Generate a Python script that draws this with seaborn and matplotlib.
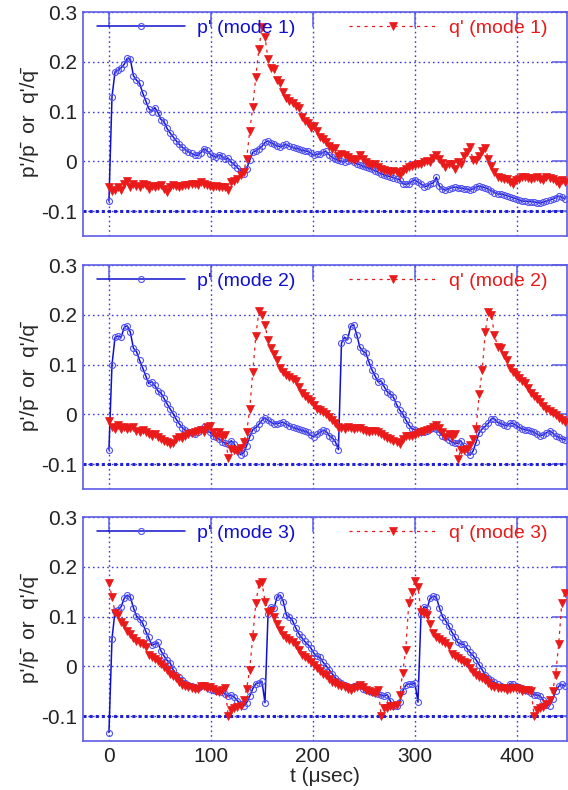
import matplotlib
matplotlib.use("Agg")
import matplotlib.pyplot as plt
import pandas as pd
import seaborn as sns

# sampling instants (microseconds)
t_us = list(range(0, 448, 3))

# normalised pressure / heat-release fluctuations for each acoustic mode
p_mode1 = [
    -0.080, 0.130, 0.180, 0.183, 0.188, 0.195, 0.207, 0.205, 0.172, 0.163,
    0.157, 0.138, 0.122, 0.106, 0.100, 0.108, 0.098, 0.084, 0.080, 0.066,
    0.057, 0.049, 0.041, 0.034, 0.028, 0.023, 0.019, 0.016, 0.013, 0.012,
    0.017, 0.025, 0.022, 0.015, 0.011, 0.008, 0.013, 0.010, 0.004, 0.006,
    -0.002, -0.007, -0.013, -0.019, -0.025, -0.015, 0.002, 0.018, 0.021, 0.025,
    0.030, 0.038, 0.041, 0.037, 0.034, 0.031, 0.029, 0.032, 0.034, 0.030,
    0.028, 0.026, 0.025, 0.022, 0.021, 0.020, 0.016, 0.012, 0.014, 0.015,
    0.018, 0.020, 0.013, 0.008, 0.004, 0.002, 0.000, -0.001, 0.001, 0.002,
    -0.002, -0.005, -0.007, -0.010, -0.012, -0.014, -0.016, -0.019, -0.022, -0.025,
    -0.028, -0.030, -0.031, -0.033, -0.035, -0.037, -0.045, -0.046, -0.045, -0.040,
    -0.038, -0.042, -0.045, -0.051, -0.050, -0.045, -0.044, -0.032, -0.050, -0.056,
    -0.058, -0.055, -0.053, -0.052, -0.053, -0.054, -0.055, -0.056, -0.058, -0.055,
    -0.052, -0.050, -0.052, -0.053, -0.056, -0.059, -0.063, -0.065, -0.066, -0.067,
    -0.069, -0.071, -0.073, -0.075, -0.078, -0.080, -0.080, -0.081, -0.081, -0.082,
    -0.083, -0.084, -0.082, -0.080, -0.078, -0.076, -0.073, -0.070, -0.072, -0.075,
]
q_mode1 = [
    -0.052, -0.060, -0.058, -0.052, -0.058, -0.045, -0.040, -0.052, -0.046, -0.050,
    -0.052, -0.046, -0.048, -0.055, -0.050, -0.052, -0.049, -0.048, -0.055, -0.062,
    -0.052, -0.048, -0.050, -0.052, -0.050, -0.048, -0.048, -0.046, -0.045, -0.048,
    -0.042, -0.046, -0.048, -0.050, -0.052, -0.050, -0.052, -0.051, -0.052, -0.058,
    -0.042, -0.040, -0.036, -0.028, -0.022, 0.005, 0.060, 0.110, 0.170, 0.225,
    0.270, 0.250, 0.205, 0.188, 0.185, 0.163, 0.158, 0.140, 0.128, 0.122,
    0.118, 0.112, 0.108, 0.090, 0.082, 0.076, 0.066, 0.070, 0.060, 0.049,
    0.044, 0.038, 0.030, 0.024, 0.026, 0.010, 0.015, 0.012, 0.009, 0.004,
    0.002, 0.005, 0.012, 0.004, -0.001, -0.006, -0.008, -0.005, -0.012, -0.015,
    -0.018, -0.019, -0.021, -0.020, -0.022, -0.028, -0.020, -0.015, -0.012, -0.010,
    -0.008, -0.006, -0.005, -0.002, 0.001, -0.001, 0.006, 0.012, 0.005, -0.004,
    -0.011, -0.006, -0.005, -0.015, -0.001, -0.005, 0.010, 0.019, 0.029, 0.002,
    0.002, 0.010, 0.020, 0.026, 0.005, -0.010, -0.022, -0.032, -0.034, -0.035,
    -0.035, -0.042, -0.045, -0.038, -0.035, -0.032, -0.032, -0.033, -0.035, -0.033,
    -0.032, -0.036, -0.038, -0.032, -0.034, -0.036, -0.040, -0.045, -0.038, -0.042,
]
p_mode2 = [
    -0.071, 0.100, 0.155, 0.157, 0.155, 0.175, 0.178, 0.165, 0.133, 0.126,
    0.109, 0.094, 0.078, 0.062, 0.066, 0.058, 0.047, 0.043, 0.032, 0.021,
    0.011, 0.001, -0.010, -0.019, -0.027, -0.032, -0.035, -0.037, -0.039, -0.035,
    -0.030, -0.026, -0.030, -0.036, -0.043, -0.046, -0.050, -0.055, -0.058, -0.059,
    -0.053, -0.060, -0.072, -0.081, -0.078, -0.063, -0.045, -0.031, -0.027, -0.020,
    -0.012, -0.007, -0.012, -0.016, -0.019, -0.019, -0.017, -0.016, -0.020, -0.023,
    -0.026, -0.028, -0.030, -0.032, -0.034, -0.036, -0.042, -0.045, -0.040, -0.036,
    -0.032, -0.034, -0.043, -0.047, -0.055, -0.071, 0.143, 0.155, 0.150, 0.177,
    0.180, 0.160, 0.135, 0.127, 0.123, 0.105, 0.089, 0.077, 0.065, 0.067,
    0.055, 0.045, 0.041, 0.034, 0.020, 0.009, 0.001, -0.011, -0.021, -0.029,
    -0.031, -0.033, -0.036, -0.035, -0.034, -0.029, -0.027, -0.030, -0.036, -0.043,
    -0.046, -0.051, -0.055, -0.058, -0.058, -0.053, -0.063, -0.075, -0.082, -0.074,
    -0.056, -0.037, -0.029, -0.024, -0.018, -0.009, -0.009, -0.016, -0.018, -0.021,
    -0.023, -0.018, -0.018, -0.022, -0.026, -0.029, -0.031, -0.032, -0.034, -0.036,
    -0.040, -0.043, -0.041, -0.037, -0.033, -0.037, -0.043, -0.046, -0.049, -0.051,
]
q_mode2 = [
    -0.014, -0.026, -0.029, -0.022, -0.029, -0.026, -0.030, -0.028, -0.026, -0.033,
    -0.036, -0.032, -0.036, -0.039, -0.043, -0.039, -0.046, -0.050, -0.054, -0.056,
    -0.060, -0.058, -0.050, -0.046, -0.047, -0.043, -0.040, -0.038, -0.036, -0.033,
    -0.032, -0.036, -0.025, -0.024, -0.035, -0.043, -0.036, -0.045, -0.042, -0.088,
    -0.070, -0.071, -0.073, -0.068, -0.056, -0.036, 0.010, 0.085, 0.157, 0.207,
    0.200, 0.180, 0.150, 0.134, 0.122, 0.110, 0.093, 0.085, 0.079, 0.075,
    0.071, 0.068, 0.055, 0.042, 0.036, 0.030, 0.026, 0.018, 0.011, 0.009,
    0.005, 0.001, -0.006, -0.012, -0.018, -0.025, -0.028, -0.029, -0.026, -0.028,
    -0.029, -0.027, -0.027, -0.031, -0.034, -0.036, -0.033, -0.033, -0.035, -0.039,
    -0.043, -0.047, -0.050, -0.053, -0.056, -0.059, -0.049, -0.044, -0.043, -0.043,
    -0.041, -0.038, -0.035, -0.033, -0.032, -0.030, -0.026, -0.022, -0.027, -0.036,
    -0.046, -0.039, -0.045, -0.040, -0.090, -0.072, -0.072, -0.070, -0.062, -0.050,
    -0.030, 0.040, 0.089, 0.165, 0.205, 0.200, 0.160, 0.136, 0.133, 0.120,
    0.110, 0.094, 0.085, 0.079, 0.073, 0.068, 0.063, 0.052, 0.043, 0.036,
    0.030, 0.025, 0.016, 0.010, 0.006, 0.002, -0.002, -0.008, -0.012, -0.015,
]
p_mode3 = [
    -0.133, 0.055, 0.112, 0.113, 0.120, 0.137, 0.143, 0.139, 0.118, 0.101,
    0.095, 0.087, 0.071, 0.058, 0.042, 0.045, 0.048, 0.031, 0.021, 0.012,
    0.007, -0.007, -0.017, -0.022, -0.028, -0.033, -0.037, -0.039, -0.041, -0.043,
    -0.040, -0.037, -0.041, -0.045, -0.047, -0.049, -0.050, -0.052, -0.055, -0.060,
    -0.058, -0.062, -0.069, -0.075, -0.080, -0.073, -0.060, -0.045, -0.035, -0.033,
    -0.030, -0.073, 0.105, 0.120, 0.118, 0.140, 0.143, 0.130, 0.103, 0.099,
    0.092, 0.078, 0.066, 0.058, 0.050, 0.044, 0.037, 0.026, 0.020, 0.018,
    0.008, 0.001, -0.007, -0.015, -0.023, -0.029, -0.034, -0.038, -0.042, -0.042,
    -0.040, -0.038, -0.040, -0.046, -0.048, -0.050, -0.052, -0.054, -0.056, -0.058,
    -0.060, -0.057, -0.070, -0.080, -0.080, -0.072, -0.050, -0.038, -0.035, -0.036,
    -0.033, -0.072, 0.105, 0.120, 0.117, 0.137, 0.141, 0.139, 0.118, 0.100,
    0.092, 0.082, 0.070, 0.060, 0.048, 0.045, 0.044, 0.036, 0.028, 0.022,
    0.013, 0.003, -0.007, -0.017, -0.023, -0.028, -0.032, -0.036, -0.040, -0.042,
    -0.042, -0.035, -0.036, -0.040, -0.042, -0.044, -0.047, -0.050, -0.054, -0.057,
    -0.058, -0.060, -0.068, -0.078, -0.079, -0.066, -0.050, -0.040, -0.036, -0.040,
]
q_mode3 = [
    0.167, 0.140, 0.108, 0.103, 0.089, 0.084, 0.072, 0.065, 0.057, 0.050,
    0.047, 0.045, 0.038, 0.023, 0.019, 0.015, 0.010, 0.004, -0.002, -0.008,
    -0.015, -0.019, -0.023, -0.031, -0.037, -0.039, -0.041, -0.043, -0.045, -0.046,
    -0.039, -0.040, -0.043, -0.041, -0.045, -0.050, -0.052, -0.048, -0.043, -0.100,
    -0.087, -0.083, -0.081, -0.080, -0.068, -0.045, -0.007, 0.060, 0.127, 0.165,
    0.170, 0.130, 0.110, 0.112, 0.100, 0.085, 0.073, 0.064, 0.057, 0.052,
    0.048, 0.042, 0.033, 0.023, 0.019, 0.015, 0.008, 0.003, -0.003, -0.010,
    -0.015, -0.018, -0.025, -0.031, -0.033, -0.037, -0.040, -0.042, -0.045, -0.047,
    -0.044, -0.042, -0.037, -0.042, -0.047, -0.049, -0.051, -0.053, -0.047, -0.100,
    -0.083, -0.083, -0.080, -0.079, -0.077, -0.057, -0.013, 0.033, 0.127, 0.150,
    0.172, 0.160, 0.110, 0.107, 0.103, 0.085, 0.068, 0.060, 0.054, 0.050,
    0.046, 0.040, 0.025, 0.020, 0.017, 0.012, 0.009, 0.007, -0.003, -0.012,
    -0.018, -0.021, -0.023, -0.028, -0.034, -0.039, -0.041, -0.043, -0.043, -0.044,
    -0.047, -0.045, -0.043, -0.043, -0.046, -0.050, -0.048, -0.048, -0.050, -0.100,
    -0.088, -0.083, -0.081, -0.075, -0.068, -0.050, -0.017, 0.045, 0.127, 0.147,
]

modes = [1, 2, 3]
p_series = [p_mode1, p_mode2, p_mode3]
q_series = [q_mode1, q_mode2, q_mode3]

x_ticks = [0, 100, 200, 300, 400]
x_tick_labels = ["0", "100", "200", "300", "400"]
y_ticks = [-0.1, 0.0, 0.1, 0.2, 0.3]
y_tick_labels = ["-0.1", "0", "0.1", "0.2", "0.3"]

BLUE = "#1010d0"
BLUE_MARK = "#5252f4"
RED = "#ea1a1a"
FRAME = "#5c5ce6"
GRID = "#3c3cdc"

sns.set_theme(style="white")
plt.rcParams["font.family"] = ["Liberation Sans", "DejaVu Sans"]

fig = plt.figure(figsize=(5.68, 7.9), dpi=100)
bottoms = [0.7013, 0.381, 0.062]

for i, m in enumerate(modes):
    ax = fig.add_axes([0.146, bottoms[i], 0.852, 0.2835])
    df = pd.DataFrame({"t": t_us, "p": p_series[i], "q": q_series[i]})

    sns.lineplot(data=df, x="t", y="p", ax=ax, color=BLUE, linewidth=1.1,
                 marker="o", markersize=4.3, markerfacecolor="none",
                 markeredgecolor=BLUE_MARK, markeredgewidth=0.8,
                 label=f"p' (mode {m})", zorder=3)
    sns.lineplot(data=df, x="t", y="q", ax=ax, color=RED, linewidth=0.9,
                 linestyle=(0, (2.5, 3.5)), marker="v", markersize=6.3,
                 markerfacecolor=RED, markeredgecolor=RED, markeredgewidth=0.5,
                 label=f"q' (mode {m})", zorder=4)

    ax.set_xlim(-25.5, 449)
    ax.set_ylim(-0.15, 0.3)
    ax.set_yticks(y_ticks, labels=y_tick_labels)
    if i == len(modes) - 1:
        ax.set_xticks(x_ticks, labels=x_tick_labels)
        ax.set_xlabel("t (\u03bcsec)", fontsize=15, labelpad=1)
    else:
        ax.set_xticks(x_ticks, labels=[""] * len(x_ticks))
        ax.set_xlabel("")
    ax.set_ylabel("p'/p\u0304  or  q'/q\u0304", fontsize=15, labelpad=2)

    ax.tick_params(axis="both", direction="in", length=11, width=1.1,
                   color=FRAME, top=True, right=True, labelsize=15,
                   labelcolor="#222222", pad=4)
    for s in ax.spines.values():
        s.set_visible(True)
        s.set_color(FRAME)
        s.set_linewidth(1.2)

    ax.grid(True, linestyle=(0, (1.2, 2.2)), linewidth=1.0, color=GRID, zorder=0)
    ax.axhline(-0.1, linestyle=(0, (1, 1)), linewidth=2.2, color="#2020d4", zorder=1)
    ax.set_axisbelow(True)

    ax.legend(loc="upper left", bbox_to_anchor=(0.03, 0.967), ncol=2,
              frameon=False, fontsize=14, handlelength=4.5,
              handletextpad=0.6, columnspacing=2.8, borderaxespad=0,
              borderpad=0, numpoints=1, labelcolor="linecolor")

fig.savefig("out.png", dpi=100)
